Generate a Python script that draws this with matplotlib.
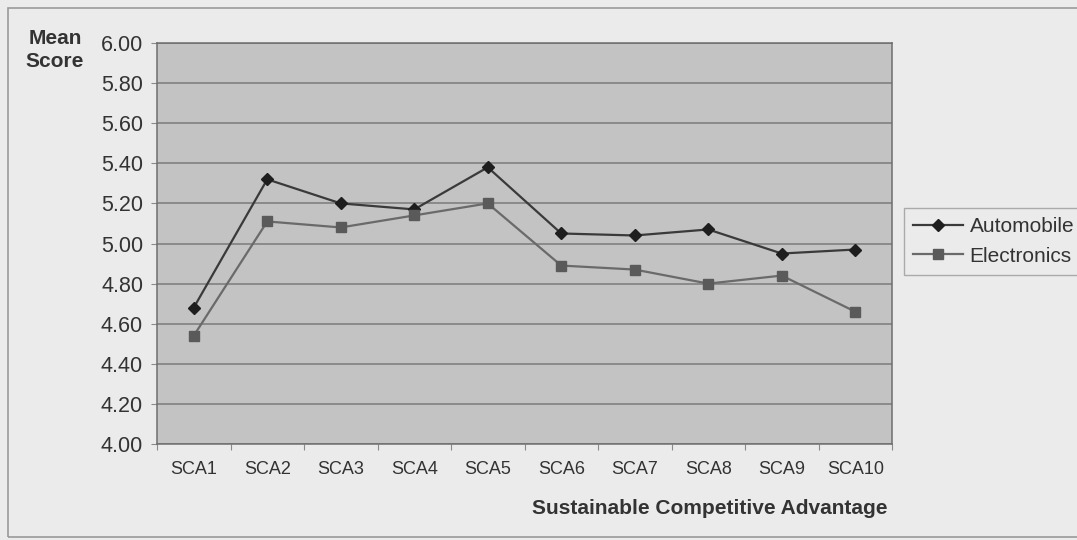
import matplotlib
matplotlib.use("Agg")
import matplotlib.pyplot as plt
from matplotlib.patches import Rectangle

# data
categories = ["SCA1", "SCA2", "SCA3", "SCA4", "SCA5", "SCA6", "SCA7", "SCA8", "SCA9", "SCA10"]
automobile = [4.68, 5.32, 5.20, 5.17, 5.38, 5.05, 5.04, 5.07, 4.95, 4.97]
electronics = [4.54, 5.11, 5.08, 5.14, 5.20, 4.89, 4.87, 4.80, 4.84, 4.66]
yticks = [4.00, 4.20, 4.40, 4.60, 4.80, 5.00, 5.20, 5.40, 5.60, 5.80, 6.00]

plt.rcParams['font.family'] = ['Liberation Sans', 'DejaVu Sans']

fig = plt.figure(figsize=(10.77, 5.40), dpi=100)
fig.patch.set_facecolor('#ebebeb')

# outer chart border
fig.patches.append(Rectangle((8 / 1077, 1 - 537 / 540), 1.0, (537 - 8) / 540,
                             transform=fig.transFigure, fill=False,
                             edgecolor='#9a9a9a', linewidth=1.2))

ax = fig.add_axes([157 / 1077, 96 / 540, 735 / 1077, 401 / 540])
ax.set_facecolor('#c3c3c3')

x = list(range(len(categories)))
ax.plot(x, automobile, color='#3a3a3a', linewidth=1.6, marker='D',
        markersize=6, markerfacecolor='#1e1e1e', markeredgecolor='#1e1e1e',
        label='Automobile', zorder=3)
ax.plot(x, electronics, color='#6a6a6a', linewidth=1.6, marker='s',
        markersize=7, markerfacecolor='#5a5a5a', markeredgecolor='#5a5a5a',
        label='Electronics', zorder=3)

ax.set_xlim(-0.5, len(categories) - 0.5)
ax.set_ylim(4.0, 6.0)
ax.set_yticks(yticks)
ax.set_yticklabels(['%.2f' % v for v in yticks], fontsize=15.5, color='#333333')
ax.yaxis.grid(True, color='#7a7a7a', linewidth=1.1)
ax.set_axisbelow(True)

ax.set_xticks([i - 0.5 for i in range(len(categories) + 1)], minor=False)
ax.set_xticklabels([])
ax.set_xticks(x, minor=True)
ax.set_xticklabels(categories, minor=True, fontsize=13, color='#333333')
ax.tick_params(axis='x', which='minor', length=0, pad=12)
ax.tick_params(axis='x', which='major', length=4, color='#8a8a8a')
ax.tick_params(axis='y', length=4, color='#8a8a8a', pad=6)

for side in ['left', 'bottom', 'top', 'right']:
    ax.spines[side].set_color('#6e6e6e')
    ax.spines[side].set_linewidth(1.1)

fig.text(55 / 1077, 1 - 50 / 540, 'Mean\nScore', ha='center', va='center',
         fontsize=15, fontweight='bold', color='#333333', linespacing=1.3)
fig.text(888 / 1077, 1 - 508 / 540, 'Sustainable Competitive Advantage',
         ha='right', va='center', fontsize=15, fontweight='bold', color='#333333')

leg = fig.legend(loc='upper left', bbox_to_anchor=(904 / 1077, 1 - 208 / 540),
                 fontsize=15, frameon=True, fancybox=False, handlelength=2.4,
                 borderaxespad=0, borderpad=0.45, labelspacing=0.5,
                 handletextpad=0.3)
leg.get_frame().set_facecolor('#ebebeb')
leg.get_frame().set_edgecolor('#9a9a9a')
for t in leg.get_texts():
    t.set_color('#333333')

fig.savefig('out.png', dpi=100, facecolor=fig.get_facecolor())
